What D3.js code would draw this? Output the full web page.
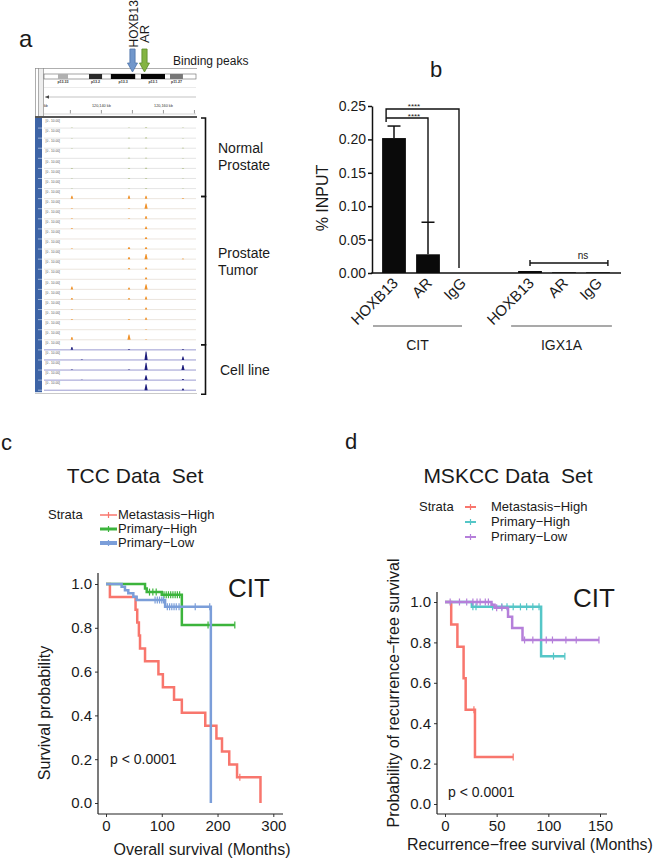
<!DOCTYPE html>
<html lang="en">
<head>
<meta charset="utf-8">
<title>HOXB13 binding and survival</title>
<script src="https://d3js.org/d3.v7.min.js"></script>
<style>
  body { margin: 0; background: #fff; }
  svg text { font-family: "Liberation Sans", Arial, sans-serif; }
</style>
</head>
<body>
<script>
// ---------- data: panel a (genome browser tracks) ----------
var peakKb = [120130.5, 120133.7, 120148.9, 120154.4, 120166.3];
var rulerKb = [120130, 120140, 120150, 120160, 120170];
var rulerLabels = ["", "120,140 kb", "", "120,160 kb", ""];
var bandNames = ["p13.33", "p13.2", "p13.3", "p13.1", "p11.27"];
var bandStart = [9.2, 29.6, 44, 63.8, 82.9];
var bandEnd = [15.8, 38.2, 60, 79.6, 91.4];
var bandFill = ["#b0b0b0", "#2a2a2a", "#050505", "#050505", "#777"];
// signal per row (0-10 scale) at each peakKb position
var normalH = [
  [0.3, 0, 0.4, 0.5, 0.4], [0.2, 0, 0.5, 0.6, 0.3], [0.3, 0, 0.4, 0.5, 0.4],
  [0.2, 0, 0.5, 0.6, 0.3], [0.3, 0, 0.4, 0.6, 0.4], [0.2, 0, 0.5, 0.5, 0.3],
  [0.3, 0, 0.4, 0.6, 0.4]
];
var tumorH = [
  [3, 0, 3.3, 3, 0.6], [0.6, 0, 0.6, 5.5, 0], [0.6, 0, 0.6, 3, 0],
  [0.6, 0, 0, 2.5, 0], [0, 0, 0, 2.2, 0], [0.5, 0, 2.2, 2.2, 0],
  [0, 0, 2.2, 5.5, 0.6], [0, 0, 1.2, 2, 0], [0, 0, 0, 2.2, 0],
  [3, 0, 2, 5.5, 0], [1.5, 0, 1.5, 3, 0], [0.6, 0, 0, 2.2, 0],
  [0.6, 0, 0.6, 2.2, 0], [0, 0, 0, 0.6, 0], [3, 0, 5.5, 0.6, 0]
];
var cellH = [
  [3, 0, 1, 0, 0.8], [0, 0.5, 0, 9, 3.7], [0.6, 0, 0.6, 7.8, 5.2],
  [0, 0.5, 0, 5.2, 1.2], [0, 0, 0, 6.3, 1.7]
];
var groupLabels = [["Normal", "Prostate"], ["Prostate", "Tumor"], ["Cell line"]];

// ---------- data: panel b (ChIP-qPCR) ----------
var bLabels = ["HOXB13", "AR", "IgG", "HOXB13", "AR", "IgG"];
var bGroup = ["CIT", "CIT", "CIT", "IGX1A", "IGX1A", "IGX1A"];
var bSlot = [0, 1, 2, 4, 5, 6];
var bValues = [0.202, 0.028, 0, 0.003, 0.001, 0.001];
var bErr = [0.018, 0.048, 0, 0.001, 0, 0];
var bTicks = [0, 0.05, 0.10, 0.15, 0.20, 0.25];

// ---------- data: panel c (TCC) ----------
var tccMetTime = [0, 7, 53, 56, 59, 61, 70, 94, 102, 122, 136, 178, 198, 208, 221, 235, 277];
var tccMetSurv = [1, .941, .882, .824, .765, .706, .647, .588, .529, .471, .412, .353, .294, .235, .176, .118, 0];
var tccMetCens = [240];
var tccMetEnd = 277;
var tccHighTime = [0, 70, 73, 100, 136];
var tccHighSurv = [1, .98, .963, .951, .813];
var tccHighCens = [78, 84, 90, 104, 108, 112, 116, 120, 124, 128, 132, 183, 231];
var tccHighEnd = 231;
var tccLowTime = [0, 28, 34, 40, 49, 55, 106, 188];
var tccLowSurv = [1, .988, .972, .958, .942, .927, .896, 0];
var tccLowCens = [88, 92, 96, 100, 103, 110, 114, 118, 122, 126, 131, 160, 186];
var tccLowEnd = 188;

// ---------- data: panel d (MSKCC) ----------
var mskMetTime = [0, 6, 12, 18, 20, 29];
var mskMetSurv = [1, .889, .778, .622, .467, .233];
var mskMetCens = [28, 66];
var mskMetEnd = 66;
var mskHighTime = [0, 26, 93];
var mskHighSurv = [1, .976, .732];
var mskHighCens = [27, 30, 46, 55, 60, 66, 73, 79, 85, 91, 105, 116];
var mskHighEnd = 116;
var mskLowTime = [0, 45, 48, 61, 65, 75];
var mskLowSurv = [1, .986, .972, .927, .871, .812];
var mskLowCens = [5, 14, 21, 27, 31, 34, 39, 42, 50, 55, 77, 85, 98, 104, 117, 127, 149];
var mskLowEnd = 149;

var strata = ["Metastasis\u2212High", "Primary\u2212High", "Primary\u2212Low"];

var svg = d3.select("body").append("svg")
  .attr("width", 658).attr("height", 860);
svg.append("rect").attr("width", 658).attr("height", 860).attr("fill", "#fff");

function txt(g, x, y, s, size, anchor) {
  return g.append("text").attr("x", x).attr("y", y)
    .attr("font-size", size).attr("text-anchor", anchor || "start")
    .attr("fill", "#1a1a1a").text(s);
}

// panel letters
txt(svg, 19, 47, "a", 24);
txt(svg, 430, 77, "b", 22);
txt(svg, 1, 450, "c", 22);
txt(svg, 345, 449, "d", 22);

// =============== panel a ===============
var a = svg.append("g");
var xKb = d3.scaleLinear().domain([120121.5, 120170.5]).range([44, 196]);
var xBand = d3.scaleLinear().domain([0, 100]).range([44, 196]);
var allRows = normalH.map(function(h) { return {h: h, grp: 0}; })
  .concat(tumorH.map(function(h) { return {h: h, grp: 1}; }))
  .concat(cellH.map(function(h) { return {h: h, grp: 2}; }));
var yRow = d3.scaleLinear().domain([0, allRows.length]).range([118, 390.2]);
var peakColor = ["#8fa64a", "#f0922a", "#1e1e7c"];
var baseColor = ["#d4d4d4", "#ddd3c8", "#8f8fcc"];

// header frame
a.append("line").attr("x1", 35).attr("x2", 197).attr("y1", 68.5).attr("y2", 68.5)
  .attr("stroke", "#9a9a9a").attr("stroke-width", 0.8);
[35.5, 38.5, 43.5].forEach(function(x) {
  a.append("line").attr("x1", x).attr("x2", x).attr("y1", 68).attr("y2", 117)
    .attr("stroke", "#8a8a8a").attr("stroke-width", 0.7);
});
a.append("rect").attr("x", 39).attr("y", 69).attr("width", 4).attr("height", 47).attr("fill", "#eee");

// ideogram
a.append("rect").attr("x", 44).attr("y", 74).attr("width", 152).attr("height", 5)
  .attr("fill", "#fff").attr("stroke", "#666").attr("stroke-width", 0.6);
bandNames.forEach(function(n, i) {
  a.append("rect").attr("x", xBand(bandStart[i])).attr("y", 74)
    .attr("width", xBand(bandEnd[i]) - xBand(bandStart[i])).attr("height", 5)
    .attr("fill", bandFill[i]);
  a.append("text").attr("x", (xBand(bandStart[i]) + xBand(bandEnd[i])) / 2).attr("y", 83)
    .attr("font-size", 3.6).attr("font-weight", "bold").attr("text-anchor", "middle")
    .attr("fill", "#333").text(n);
});
a.append("line").attr("x1", 44).attr("x2", 196).attr("y1", 87.5).attr("y2", 87.5)
  .attr("stroke", "#ddd").attr("stroke-width", 0.6);

// strand arrow line
a.append("line").attr("x1", 45).attr("x2", 196).attr("y1", 97).attr("y2", 97)
  .attr("stroke", "#aaa").attr("stroke-width", 0.7);
a.append("path").attr("d", "M45,97 L49,95.3 L49,98.7 Z").attr("fill", "#444");

// ruler
txt(a, 44, 107, "kb", 3.6);
rulerKb.forEach(function(k, i) {
  a.append("line").attr("x1", xKb(k)).attr("x2", xKb(k)).attr("y1", 110).attr("y2", 113.5)
    .attr("stroke", "#555").attr("stroke-width", 0.6);
  if (rulerLabels[i]) {
    a.append("text").attr("x", xKb(k)).attr("y", 107).attr("font-size", 3.8)
      .attr("text-anchor", "middle").attr("fill", "#333").text(rulerLabels[i]);
  }
});
a.append("line").attr("x1", 44).attr("x2", 196).attr("y1", 114).attr("y2", 114)
  .attr("stroke", "#bbb").attr("stroke-width", 0.6);
a.append("rect").attr("x", 35).attr("y", 116).attr("width", 162).attr("height", 2).attr("fill", "#555");

// blue name column
a.append("rect").attr("x", 35).attr("y", 118).attr("width", 7)
  .attr("height", yRow(allRows.length) - 118 + 2).attr("fill", "#3e64a6");

// tracks
allRows.forEach(function(r, i) {
  var top = yRow(i), base = yRow(i + 1);
  a.append("line").attr("x1", 38).attr("x2", 42).attr("y1", base).attr("y2", base)
    .attr("stroke", "#c9d6ec").attr("stroke-width", 0.7);
  a.append("line").attr("x1", 44).attr("x2", 196).attr("y1", base).attr("y2", base)
    .attr("stroke", baseColor[r.grp]).attr("stroke-width", r.grp === 2 ? 0.9 : 0.6);
  a.append("text").attr("x", 45.5).attr("y", top + 4.2).attr("font-size", 3.2)
    .attr("fill", "#555").text("[0 - 10.00]");
  r.h.forEach(function(v, j) {
    if (v <= 0) return;
    var x = xKb(peakKb[j]), hh = v * 0.95;
    var w = v > 4 ? 1.6 : 1.3;
    a.append("path")
      .attr("d", "M" + (x - w) + "," + base + " L" + (x - 0.4) + "," + (base - hh) +
        " L" + (x + 0.4) + "," + (base - hh) + " L" + (x + w) + "," + base + " Z")
      .attr("fill", peakColor[r.grp]);
  });
});
a.append("line").attr("x1", 35).attr("x2", 197).attr("y1", 393.5).attr("y2", 393.5)
  .attr("stroke", "#bbb").attr("stroke-width", 0.8);

// brackets + labels
var grpRange = [[0, normalH.length], [normalH.length, normalH.length + tumorH.length],
  [normalH.length + tumorH.length, allRows.length]];
var brY = [[yRow(0), yRow(grpRange[0][1]) + 8], [yRow(grpRange[0][1]) + 8, yRow(grpRange[1][1]) + 5],
  [yRow(grpRange[1][1]) + 5, yRow(allRows.length) + 4]];
var labY = [[153, 170], [258, 275], [375]];
brY.forEach(function(b, i) {
  a.append("path").attr("d", "M201," + b[0] + " H205.5 V" + b[1] + " H201")
    .attr("fill", "none").attr("stroke", "#111").attr("stroke-width", 1.6);
  groupLabels[i].forEach(function(s, k) {
    txt(a, i === 2 ? 220 : 218, labY[i][k], s, 14);
  });
});

// binding-peak arrows
function downArrow(cx, fill, edge) {
  a.append("path")
    .attr("d", "M" + (cx - 2.6) + ",49 H" + (cx + 2.6) + " V63 H" + (cx + 5) + " L" + cx + ",72 L" +
      (cx - 5) + ",63 H" + (cx - 2.6) + " Z")
    .attr("fill", fill).attr("stroke", edge).attr("stroke-width", 0.8);
}
downArrow(132.5, "#7197cb", "#4f75aa");
downArrow(144.5, "#84b443", "#5b8a2b");
a.append("text").attr("transform", "translate(137.5,47.5) rotate(-90)")
  .attr("font-size", 12).attr("fill", "#1a1a1a").text("HOXB13");
a.append("text").attr("transform", "translate(149,43) rotate(-90)")
  .attr("font-size", 13).attr("fill", "#1a1a1a").text("AR");
txt(a, 173, 65, "Binding peaks", 12);

// =============== panel b ===============
var b = svg.append("g");
var yB = d3.scaleLinear().domain([0, 0.25]).range([273, 106]);
var xB = d3.scaleBand().domain(d3.range(7)).range([377, 615])
  .paddingInner(0.3).paddingOuter(0.15);
var bw = xB.bandwidth();
function xc(s) { return xB(s) + bw / 2; }

var yAx = b.append("g").attr("transform", "translate(372,0)")
  .call(d3.axisLeft(yB).tickValues(bTicks).tickFormat(d3.format(".2f"))
    .tickSize(4).tickSizeOuter(0).tickPadding(2));
yAx.selectAll("path,line").attr("stroke", "#111").attr("stroke-width", 1.5);
yAx.selectAll("text").attr("font-size", 14).attr("fill", "#1a1a1a")
  .attr("font-family", "Liberation Sans, Arial, sans-serif");
b.append("line").attr("x1", 371.25).attr("x2", 621).attr("y1", yB(0)).attr("y2", yB(0))
  .attr("stroke", "#111").attr("stroke-width", 1.5);
b.append("text").attr("transform", "translate(328,198) rotate(-90)")
  .attr("text-anchor", "middle").attr("font-size", 16).attr("fill", "#1a1a1a").text("% INPUT");

bValues.forEach(function(v, i) {
  var s = bSlot[i];
  if (v > 0) {
    b.append("rect").attr("x", xB(s)).attr("y", yB(v)).attr("width", bw)
      .attr("height", yB(0) - yB(v)).attr("fill", "#0a0a0a");
  }
  if (bErr[i] > 0.004) {
    b.append("line").attr("x1", xc(s)).attr("x2", xc(s)).attr("y1", yB(v)).attr("y2", yB(v + bErr[i]))
      .attr("stroke", "#111").attr("stroke-width", 1.5);
    b.append("line").attr("x1", xc(s) - 6.5).attr("x2", xc(s) + 6.5)
      .attr("y1", yB(v + bErr[i])).attr("y2", yB(v + bErr[i]))
      .attr("stroke", "#111").attr("stroke-width", 1.5);
  }
  b.append("text").attr("transform", "translate(" + (xc(s) + 5) + ",284) rotate(-45)")
    .attr("text-anchor", "end").attr("font-size", 15).attr("fill", "#1a1a1a").text(bLabels[i]);
});

// group underlines
var grpNames = ["CIT", "IGX1A"];
var grpX = [[xc(0) - 21, xc(2)], [xB(4) - 7, xB(6) + bw + 2]];
grpNames.forEach(function(n, i) {
  b.append("line").attr("x1", grpX[i][0]).attr("x2", grpX[i][1]).attr("y1", 326).attr("y2", 326)
    .attr("stroke", "#555").attr("stroke-width", 1.2);
  txt(b, (grpX[i][0] + grpX[i][1]) / 2, 350, n, 14, "middle");
});

// significance brackets
var armX = xB(0) + 4;
b.append("path").attr("d", "M" + armX + ",122 V109 H" + (xc(2) - 3) + " V" + (yB(0) - 5))
  .attr("fill", "none").attr("stroke", "#111").attr("stroke-width", 1.4);
b.append("path").attr("d", "M" + armX + ",118 H" + xc(1) + " V" + yB(bValues[1] + bErr[1]))
  .attr("fill", "none").attr("stroke", "#111").attr("stroke-width", 1.4);
txt(b, 414, 108.5, "****", 8, "middle");
txt(b, 414, 119, "****", 8, "middle");
var nsL = xc(4), nsR = xB(6) + bw - 2;
b.append("path").attr("d", "M" + nsL + ",263 H" + nsR).attr("stroke", "#111").attr("stroke-width", 1.4);
[nsL, nsR].forEach(function(x) {
  b.append("line").attr("x1", x).attr("x2", x).attr("y1", 260).attr("y2", 266)
    .attr("stroke", "#111").attr("stroke-width", 1.4);
});
txt(b, 583, 259, "ns", 10, "middle");

// =============== panels c, d ===============
function stepAt(times, surv, t) {
  var s = surv[0];
  for (var i = 0; i < times.length; i++) if (times[i] <= t) s = surv[i];
  return s;
}

function kmPanel(cfg) {
  var g = svg.append("g");
  var x = d3.scaleLinear().domain(cfg.xDomain).range(cfg.xRange);
  var y = d3.scaleLinear().domain([0, 1]).range(cfg.yRange);

  var t = txt(g, cfg.titleX, 483, cfg.title, 21, "middle");
  t.style("white-space", "pre");

  // legend
  txt(g, cfg.legX, cfg.legY[0], "Strata", 13);
  cfg.series.forEach(function(s, i) {
    var ky = cfg.legY[i] - 4;
    g.append("line").attr("x1", cfg.keyX[0]).attr("x2", cfg.keyX[1]).attr("y1", ky).attr("y2", ky)
      .attr("stroke", s.color).attr("stroke-width", cfg.keyW[i]);
    var mid = (cfg.keyX[0] + cfg.keyX[1]) / 2;
    g.append("line").attr("x1", mid).attr("x2", mid).attr("y1", ky - 3).attr("y2", ky + 3)
      .attr("stroke", s.color).attr("stroke-width", 1.2);
    txt(g, cfg.legTextX, cfg.legY[i], strata[i], 13);
  });

  // axes
  var ya = g.append("g").attr("transform", "translate(" + cfg.axisX + ",0)")
    .call(d3.axisLeft(y).tickValues([0, 0.2, 0.4, 0.6, 0.8, 1]).tickFormat(d3.format(".1f"))
      .tickSize(3).tickPadding(3).tickSizeOuter(0));
  var xa = g.append("g").attr("transform", "translate(0," + cfg.axisY + ")")
    .call(d3.axisBottom(x).tickValues(cfg.xTicks).tickSize(3).tickPadding(3).tickSizeOuter(0));
  [ya, xa].forEach(function(ax) {
    ax.select(".domain").remove();
    ax.selectAll("line").attr("stroke", "#333").attr("stroke-width", 1);
    ax.selectAll("text").attr("font-size", 15).attr("fill", "#1a1a1a")
      .attr("font-family", "Liberation Sans, Arial, sans-serif");
  });
  g.append("line").attr("x1", cfg.axisX).attr("x2", cfg.axisX).attr("y1", cfg.axisTop).attr("y2", cfg.axisY)
    .attr("stroke", "#222").attr("stroke-width", 1.2);
  g.append("line").attr("x1", cfg.axisX).attr("x2", cfg.axisRight).attr("y1", cfg.axisY).attr("y2", cfg.axisY)
    .attr("stroke", "#222").attr("stroke-width", 1.2);

  txt(g, cfg.xTitleX, cfg.xTitleY, cfg.xTitle, 16, "middle");
  g.append("text").attr("transform", "translate(" + cfg.yTitleX + "," + cfg.yTitleY + ") rotate(-90)")
    .attr("text-anchor", "middle").attr("font-size", 16).attr("fill", "#1a1a1a").text(cfg.yTitle);

  // curves
  var line = d3.line().x(function(d) { return x(d[0]); }).y(function(d) { return y(d[1]); })
    .curve(d3.curveStepAfter);
  cfg.series.forEach(function(s) {
    var pts = s.time.map(function(tm, i) { return [tm, s.surv[i]]; });
    var last = pts[pts.length - 1];
    if (s.end > last[0]) pts.push([s.end, last[1]]);
    g.append("path").datum(pts).attr("d", line).attr("fill", "none")
      .attr("stroke", s.color).attr("stroke-width", 2.5);
    s.cens.forEach(function(c) {
      var yy = y(stepAt(s.time, s.surv, c));
      g.append("line").attr("x1", x(c)).attr("x2", x(c)).attr("y1", yy - 3.5).attr("y2", yy + 3.5)
        .attr("stroke", s.color).attr("stroke-width", 1.2);
    });
  });

  txt(g, cfg.citX, cfg.citY, "CIT", 26);
  txt(g, cfg.pX, cfg.pY, "p < 0.0001", 14);
}

kmPanel({
  title: "TCC Data  Set", titleX: 135,
  xDomain: [0, 300], xRange: [106, 273.3], yRange: [803, 584], xTicks: [0, 100, 200, 300],
  axisX: 98, axisY: 814, axisTop: 573, axisRight: 283,
  legX: 48, legY: [519, 533, 547], keyX: [100, 117], keyW: [1.5, 3, 4], legTextX: 118,
  xTitle: "Overall survival (Months)", xTitleX: 202, xTitleY: 855,
  yTitle: "Survival probability", yTitleX: 50, yTitleY: 713,
  citX: 228, citY: 597, pX: 110, pY: 764,
  series: [
    {time: tccMetTime, surv: tccMetSurv, cens: tccMetCens, end: tccMetEnd, color: "#f8766d"},
    {time: tccHighTime, surv: tccHighSurv, cens: tccHighCens, end: tccHighEnd, color: "#3cb43c"},
    {time: tccLowTime, surv: tccLowSurv, cens: tccLowCens, end: tccLowEnd, color: "#7b9ed9"}
  ]
});

kmPanel({
  title: "MSKCC Data  Set", titleX: 508,
  xDomain: [0, 150], xRange: [445, 600], yRange: [804, 602], xTicks: [0, 50, 100, 150],
  axisX: 437, axisY: 814, axisTop: 592, axisRight: 607,
  legX: 419, legY: [511, 526, 541], keyX: [465, 476], keyW: [2, 2, 2], legTextX: 491,
  xTitle: "Recurrence\u2212free survival (Months)", xTitleX: 530, xTitleY: 850,
  yTitle: "Probability of recurrence\u2212free survival", yTitleX: 399, yTitleY: 693,
  citX: 573, citY: 607, pX: 448, pY: 797,
  series: [
    {time: mskMetTime, surv: mskMetSurv, cens: mskMetCens, end: mskMetEnd, color: "#f8766d"},
    {time: mskHighTime, surv: mskHighSurv, cens: mskHighCens, end: mskHighEnd, color: "#55c6c7"},
    {time: mskLowTime, surv: mskLowSurv, cens: mskLowCens, end: mskLowEnd, color: "#b57fda"}
  ]
});
</script>
</body>
</html>
